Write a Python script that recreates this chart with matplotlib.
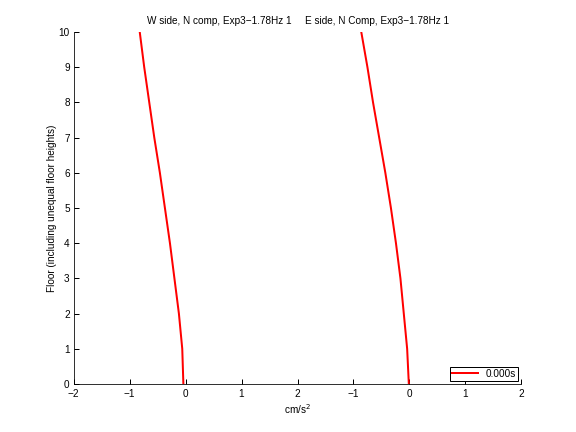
import numpy as np
import matplotlib.pyplot as plt

plt.rcParams['font.family'] = ['Liberation Sans', 'DejaVu Sans']

floors = [0, 1, 2, 3, 4, 5, 6, 7, 8, 9, 10]
w_side = [-0.04, -0.06, -0.12, -0.20, -0.28, -0.37, -0.46, -0.56, -0.65, -0.74, -0.82]
e_side = [-0.01, -0.04, -0.10, -0.16, -0.24, -0.33, -0.43, -0.54, -0.65, -0.75, -0.86]
e_offset = 4

tick_pos = [-2, -1, 0, 1, 2, 3, 4, 5, 6]
tick_labels = ['\u22122', '\u22121', '0', '1', '2', '\u22121', '0', '1', '2']
titles = ['W side, N comp, Exp3\u22121.78Hz 1', 'E side, N Comp, Exp3\u22121.78Hz 1']

fig = plt.figure(figsize=(8, 6), dpi=72)
ax = fig.add_axes([0.128, 0.111, 0.777, 0.815])

ax.plot(w_side, floors, color='red', lw=2, label='0.000s')
ax.plot(np.array(e_side) + e_offset, floors, color='red', lw=2)

ax.set_xlim(-2, 6)
ax.set_ylim(0, 10)
ax.set_xticks(tick_pos)
ax.set_xticklabels(tick_labels)
ax.set_yticks(floors)
ax.tick_params(direction='in', length=5, labelsize=10, width=1)
ax.tick_params(axis='x', pad=5)
ax.tick_params(axis='y', pad=4)
for s in ['top', 'right']:
    ax.spines[s].set_visible(False)

ax.set_xlabel('cm/s$^2$', fontsize=10, labelpad=3)
ax.set_ylabel('Floor (including unequal floor heights)', fontsize=10, labelpad=1)

ax.text(0.6, 10.18, titles[0], ha='center', va='bottom', fontsize=10)
ax.text(3.43, 10.18, titles[1], ha='center', va='bottom', fontsize=10)

leg = ax.legend(loc='lower right', bbox_to_anchor=(1.0, 0.0), fontsize=10,
                frameon=True, fancybox=False, framealpha=1, edgecolor='black',
                handlelength=2.6, borderpad=0.2, borderaxespad=0.35)
leg.get_frame().set_linewidth(1)

fig.savefig('out.png', dpi=72)
